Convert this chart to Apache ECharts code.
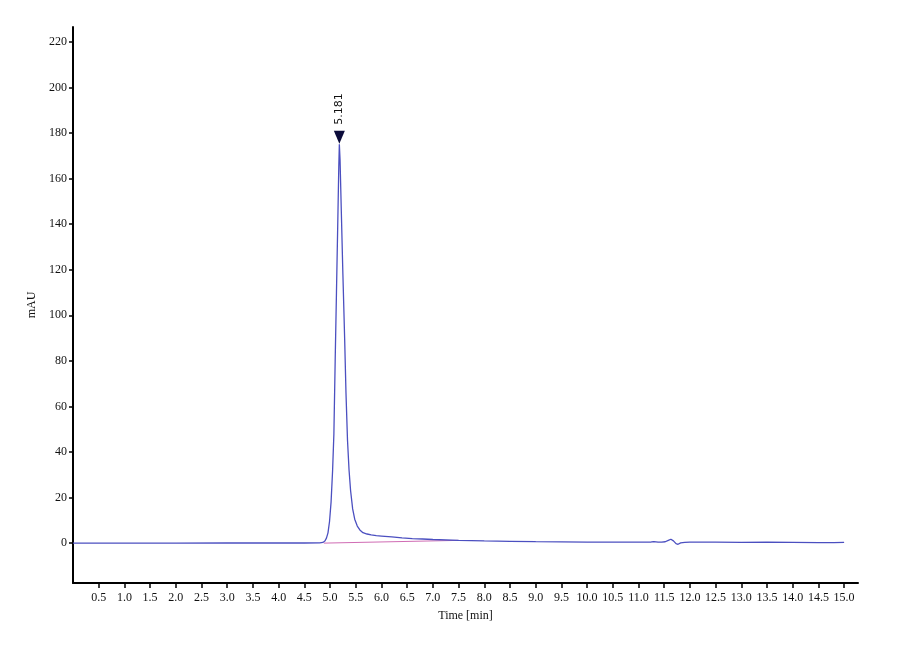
<!DOCTYPE html>
<html>
<head>
<meta charset="utf-8">
<script src="https://cdn.jsdelivr.net/npm/echarts@6/dist/echarts.min.js"></script>
<style>
  html, body { margin: 0; padding: 0; background: #ffffff; }
  #main { width: 900px; height: 660px; }
</style>
</head>
<body>
<div id="main"></div>
<script>
// chromatogram trace (time in min, signal in mAU)
var timeMin = [
    0.0, 1.0, 2.0, 3.0, 4.0, 4.5, 4.8, 4.86, 4.9, 4.93, 4.96, 4.99,
    5.02, 5.05, 5.075, 5.10, 5.125, 5.15, 5.17, 5.181, 5.195, 5.22,
    5.25, 5.285, 5.31, 5.34, 5.37, 5.40, 5.44, 5.48, 5.53, 5.58,
    5.64, 5.72, 5.80, 5.90, 6.0, 6.2, 6.4, 6.6, 6.8, 7.0, 7.5, 8.0,
    8.5, 9.0, 9.5, 10.0, 10.5, 11.0, 11.25, 11.3, 11.38, 11.45, 11.52,
    11.58, 11.63, 11.68, 11.73, 11.77, 11.82, 11.9, 12.0, 12.5, 13.0,
    13.5, 14.0, 14.5, 14.8, 15.0
];
var signalMau = [
    0.0, 0.0, 0.0, 0.05, 0.05, 0.05, 0.1, 0.3, 0.9, 2.2, 4.5, 9.5,
    18, 32, 48, 80, 110, 140, 165, 175, 168, 145,
    118, 89, 66, 45, 32, 23, 15, 10.5, 7.5, 5.8,
    4.6, 4.0, 3.6, 3.3, 3.1, 2.7, 2.3, 2.0, 1.8, 1.6, 1.2, 0.95,
    0.8, 0.65, 0.55, 0.45, 0.45, 0.45, 0.5, 0.7, 0.4, 0.4, 0.6,
    1.2, 1.7, 1.0, -0.2, -0.5, 0.1, 0.35, 0.4, 0.4, 0.35,
    0.4, 0.35, 0.2, 0.2, 0.35
];

// integration baseline under the main peak
var baseTime = [4.88, 7.5];
var baseValue = [0.0, 1.2];

// labelled peak
var peakTime = [5.181];
var peakValue = [175];

var xTicks = [0.5, 1.0, 1.5, 2.0, 2.5, 3.0, 3.5, 4.0, 4.5, 5.0, 5.5, 6.0, 6.5, 7.0, 7.5,
              8.0, 8.5, 9.0, 9.5, 10.0, 10.5, 11.0, 11.5, 12.0, 12.5, 13.0, 13.5, 14.0, 14.5, 15.0];
var yTicks = [0, 20, 40, 60, 80, 100, 120, 140, 160, 180, 200, 220];

var trace = timeMin.map(function (t, i) { return [t, signalMau[i]]; });
var baseline = baseTime.map(function (t, i) { return [t, baseValue[i]]; });
var peaks = peakTime.map(function (t, i) {
    return { coord: [t, peakValue[i]], value: t.toFixed(3) };
});

var font = 'Liberation Serif';
var chart = echarts.init(document.getElementById('main'));

var option = {
    animation: false,
    backgroundColor: '#ffffff',
    grid: { left: 73, right: 42, top: 27, bottom: 77 },
    xAxis: {
        type: 'value',
        min: 0,
        max: 15.27,
        name: 'Time [min]',
        nameLocation: 'middle',
        nameGap: 27,
        nameTextStyle: { fontFamily: font, fontSize: 12, color: '#111' },
        axisLine: { onZero: false, lineStyle: { color: '#000', width: 2 } },
        axisTick: { customValues: xTicks, length: 5, lineStyle: { color: '#000', width: 1.5 } },
        axisLabel: {
            customValues: xTicks,
            margin: 9,
            fontFamily: font, fontSize: 12, color: '#111',
            formatter: function (v) { return v.toFixed(1); }
        },
        splitLine: { show: false }
    },
    yAxis: {
        type: 'value',
        min: -17.5,
        max: 226.5,
        name: 'mAU',
        nameLocation: 'middle',
        nameGap: 33,
        nameRotate: 90,
        nameTextStyle: { fontFamily: font, fontSize: 12, color: '#111' },
        axisLine: { show: true, lineStyle: { color: '#000', width: 2 } },
        axisTick: { show: true, customValues: yTicks, length: 4, lineStyle: { color: '#000', width: 1.5 } },
        axisLabel: {
            customValues: yTicks,
            margin: 6,
            fontFamily: font, fontSize: 12, color: '#111'
        },
        splitLine: { show: false }
    },
    series: [
        {
            name: 'baseline',
            type: 'line',
            data: baseline,
            symbol: 'none',
            lineStyle: { color: '#d06cb4', width: 1 },
            z: 2
        },
        {
            name: 'signal',
            type: 'line',
            data: trace,
            symbol: 'none',
            lineStyle: { color: '#4b4fc0', width: 1.3 },
            z: 3,
            markPoint: {
                symbol: 'triangle',
                symbolRotate: 180,
                symbolSize: [11, 13],
                symbolOffset: [0, -7],
                itemStyle: { color: '#0b0b3a' },
                label: {
                    show: true,
                    position: 'top',
                    distance: 6,
                    rotate: 90,
                    align: 'left',
                    verticalAlign: 'middle',
                    fontFamily: 'DejaVu Sans',
                    fontSize: 11,
                    color: '#111',
                    formatter: function (p) { return p.value; }
                },
                data: peaks
            }
        }
    ]
};

chart.setOption(option);
</script>
</body>
</html>
